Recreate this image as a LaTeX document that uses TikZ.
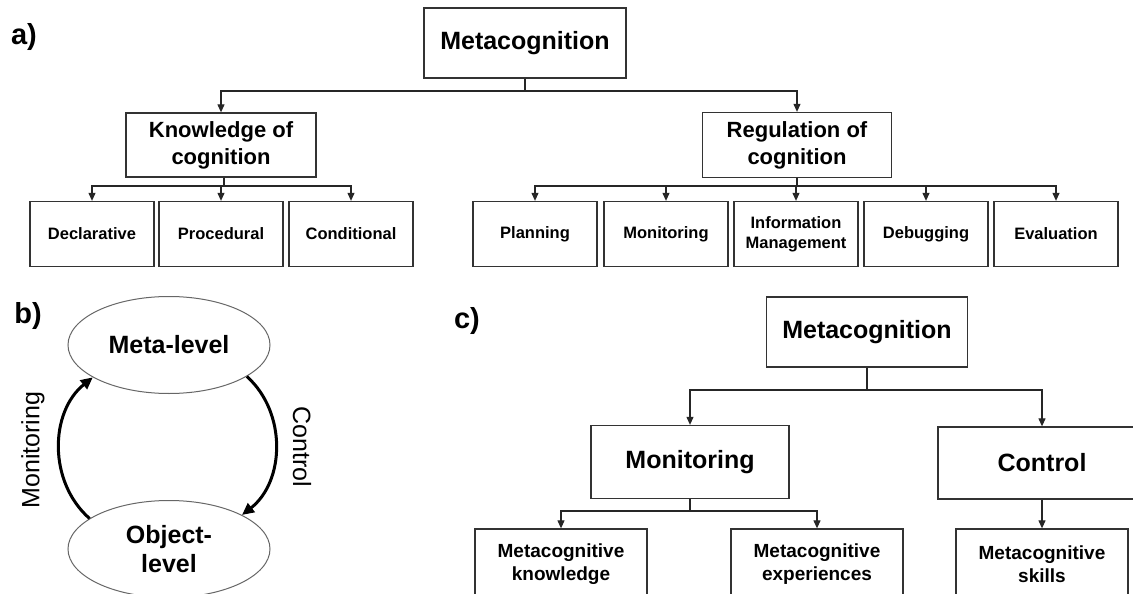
\documentclass[tikz,border=0pt]{standalone}
\usepackage{fontspec}
\setmainfont{Liberation Sans}
\usetikzlibrary{arrows.meta,shapes.geometric}

\begin{document}
\begin{tikzpicture}[x=1pt, y=-1pt,
  topbox/.style={draw=black!80, line width=1.3pt, align=center, inner sep=0pt,
    font=\fontsize{25}{30}\selectfont\bfseries},
  midbox/.style={topbox, font=\fontsize{22}{27}\selectfont\bfseries},
  leafbox/.style={topbox, minimum width=124, minimum height=65,
    font=\fontsize{16.5}{20}\selectfont\bfseries},
  cbox/.style={topbox, minimum width=172, minimum height=70,
    font=\fontsize{19}{23}\selectfont\bfseries},
  oval/.style={ellipse, draw=black!60, line width=1pt, align=center, inner sep=0pt,
    minimum width=202, minimum height=97, font=\fontsize{25}{29}\selectfont\bfseries},
  panel/.style={inner sep=0pt, font=\fontsize{29}{34}\selectfont\bfseries},
  side/.style={inner sep=0pt, font=\fontsize{25}{30}\selectfont},
  arr/.style={draw=black!85, line width=1.1pt, -{Triangle[length=8pt, width=7pt]}},
  cyclearr/.style={line width=3pt, -{Triangle[length=12pt, width=11pt]}}]
%
\useasboundingbox (0,0) rectangle (1133,594);
\clip (0,0) rectangle (1133,594);
%
% a)
\node[panel] (la) at (24,37) {a)};
\node[topbox, minimum width=202, minimum height=70] (metaA) at (525,43) {Metacognition};
\node[midbox, minimum width=190, minimum height=64] (know) at (221,145) {Knowledge of\\cognition};
\node[midbox, minimum width=189, minimum height=65] (reg) at (797,145) {Regulation of\\cognition};
%
\node[leafbox] (decl) at (92,234) {Declarative};
\node[leafbox] (proc) at (221,234) {Procedural};
\node[leafbox] (cond) at (351,234) {Conditional};
%
\node[leafbox] (plan) at (535,234) {Planning};
\node[leafbox] (moni) at (666,234) {Monitoring};
\node[leafbox] (info) at (796,234) {Information\\Management};
\node[leafbox] (debu) at (926,234) {Debugging};
\node[leafbox] (eval) at (1056,234) {Evaluation};
%
\coordinate (ja) at (525,91);
\coordinate (jk) at (224,186);
\coordinate (jr) at (797,186);
\foreach \n in {know,reg} \draw[arr] (metaA) -- (ja) -| (\n);
\foreach \n in {decl,proc,cond} \draw[arr] (know.south -| jk) -- (jk) -| (\n);
\foreach \n in {plan,moni,info,debu,eval} \draw[arr] (reg) -- (jr) -| (\n);
%
% b)
\node[panel] (lb) at (28,316) {b)};
\node[oval] (metaL) at (169,345) {Meta-level};
\node[oval] (objL) at (169,549) {Object-\\level};
\draw[cyclearr] (objL.159) to[bend left=50] (metaL.203);
\draw[cyclearr] (metaL.338) to[bend left=50] (objL.25);
\node[side, rotate=90] (monL) at (33,450) {Monitoring};
\node[side, rotate=-90] (ctlL) at (302,447) {Control};
%
% c)
\node[panel] (lc) at (467,321) {c)};
\node[topbox, minimum width=201, minimum height=70] (metaC) at (867,332) {Metacognition};
\node[topbox, minimum width=198, minimum height=73] (monC) at (690,462) {Monitoring};
\node[topbox, minimum width=208, minimum height=72] (ctrlC) at (1042,463) {Control};
%
\node[cbox] (mknow) at (561,564) {Metacognitive\\knowledge};
\node[cbox] (mexp) at (817,564) {Metacognitive\\experiences};
\node[cbox] (mskill) at (1042,564) {Metacognitive\\skills};
%
\coordinate (jc) at (867,390);
\coordinate (jm) at (690,511);
\foreach \n in {monC,ctrlC} \draw[arr] (metaC) -- (jc) -| (\n);
\foreach \n in {mknow,mexp} \draw[arr] (monC) -- (jm) -| (\n);
\draw[arr] (ctrlC) -- (mskill);
%
\end{tikzpicture}
\end{document}
